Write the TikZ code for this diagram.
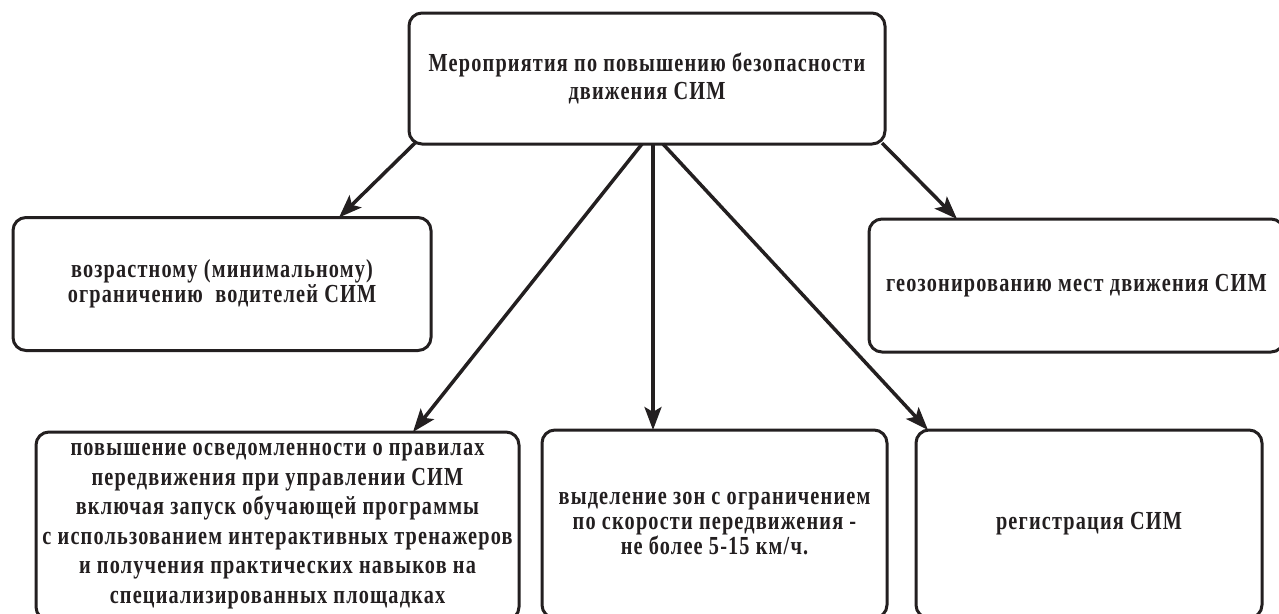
\documentclass[tikz,border=0pt]{standalone}
\usepackage{fontspec}
\setmainfont{Liberation Serif}[FakeStretch=0.78,LetterSpace=4.5]
\usetikzlibrary{arrows.meta,calc}
\definecolor{ink}{HTML}{231F20}
\begin{document}
\begin{tikzpicture}[x=1pt,y=-1pt,
  box/.style={draw=ink, line width=3pt, rounded corners=13pt, align=center, text=ink,
    inner sep=0pt, outer sep=0pt, font=\bfseries\fontsize{26}{25}\selectfont},
  arr/.style={draw=ink, line width=3.5pt, -{Stealth[length=23pt,width=17pt,inset=5pt]}}]
\clip (0,0) rectangle (1279,613);
\fill[white] (0,0) rectangle (1279,613);
\node[box, minimum width=476pt, minimum height=131pt, font=\bfseries\fontsize{26}{28}\selectfont] (top) at (647,78.5)
  {Мероприятия по повышению безопасности\\движения СИМ};
\node[box, minimum width=418pt, minimum height=133pt] (ml) at (222,284)
  {возрастному (минимальному)\\ограничению\ \ водителей СИМ};
\node[box, minimum width=415pt, minimum height=133pt] (mr) at (1076.5,285.5)
  {геозонированию мест движения СИМ};
\node[box, minimum width=483pt, minimum height=188pt, font=\bfseries\fontsize{26}{29.5}\selectfont] (bl) at (277.5,526)
  {повышение осведомленности о правилах\\передвижения при управлении СИМ\\включая запуск обучающей программы\\с использованием интерактивных тренажеров\\и получения практических навыков на\\специализированных площадках};
\node[box, minimum width=345pt, minimum height=188pt] (bm) at (714.5,524)
  {выделение зон с ограничением\\по скорости передвижения -\\не более 5-15 км/ч.};
\node[box, minimum width=346pt, minimum height=188pt] (br) at (1089,524)
  {регистрация СИМ};
\draw[arr] ($(top.south west)+(6,-1)$) -- ($(ml.north west)+(326,0)$);
\draw[arr] ($(top.south west)+(233,0)$) -- ($(bl.north west)+(377,0)$);
\draw[arr] ($(top.south west)+(244,0)$) -- ($(bm.north west)+(111,0)$);
\draw[arr] ($(top.south west)+(254,0)$) -- ($(br.north west)+(12,0)$);
\draw[arr] ($(top.south east)+(-3,-1)$) -- ($(mr.north west)+(88,0)$);
\end{tikzpicture}
\end{document}
